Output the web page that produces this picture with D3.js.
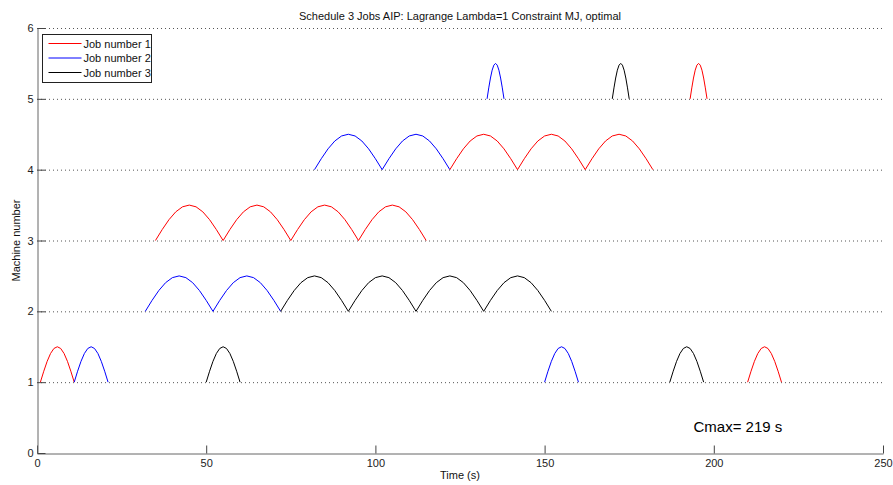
<!DOCTYPE html>
<html>
<head>
<meta charset="utf-8">
<script src="https://cdn.jsdelivr.net/npm/d3@7/dist/d3.min.js"></script>
<style>
  body { margin: 0; background: #fff; }
  svg { display: block; font-family: "Liberation Sans", Arial, sans-serif; }
  .tick text { font-size: 11px; fill: #222; }
</style>
</head>
<body>
<div id="chart"></div>
<script>
// operations per machine: [job, start, end]
const machine1 = [[1, 1, 11], [2, 11, 21], [3, 50, 60], [2, 150, 160], [3, 187, 197], [1, 210, 220]];
const machine2 = [[2, 32, 52], [2, 52, 72], [3, 72, 92], [3, 92, 112], [3, 112, 132], [3, 132, 152]];
const machine3 = [[1, 35, 55], [1, 55, 75], [1, 75, 95], [1, 95, 115]];
const machine4 = [[2, 82, 102], [2, 102, 122], [1, 122, 142], [1, 142, 162], [1, 162, 182]];
const machine5 = [[2, 133, 138], [3, 170, 175], [1, 193, 198]];
const machines = [machine1, machine2, machine3, machine4, machine5];

const jobNames = ['Job number 1', 'Job number 2', 'Job number 3'];
const jobColors = ['#ff0000', '#0000ff', '#000000'];
const xTicks = [0, 50, 100, 150, 200, 250];
const yTicks = [0, 1, 2, 3, 4, 5, 6];
const cmax = 219;

const width = 893, height = 485;
const margin = { left: 37, right: 10, top: 28, bottom: 32 };

const svg = d3.select('#chart').append('svg').attr('width', width).attr('height', height);

const x = d3.scaleLinear().domain([0, 250]).range([margin.left, width - margin.right]);
const y = d3.scaleLinear().domain([0, 6]).range([height - margin.bottom, margin.top]);

// dotted grid
svg.append('g')
  .selectAll('line')
  .data(yTicks.filter((d) => d > 0))
  .join('line')
  .attr('x1', x(0))
  .attr('x2', x(250))
  .attr('y1', (d) => y(d) + 0.5)
  .attr('y2', (d) => y(d) + 0.5)
  .attr('stroke', '#555')
  .attr('stroke-width', 1)
  .attr('stroke-dasharray', '1,3');

// axes
const xAxis = svg.append('g')
  .attr('transform', `translate(0,${y(0) + 0.5})`)
  .call(d3.axisBottom(x).tickValues(xTicks).tickFormat(d3.format('d')).tickSizeInner(-8).tickSizeOuter(0).tickPadding(6));
const yAxis = svg.append('g')
  .attr('transform', `translate(${x(0) + 0.5},0)`)
  .call(d3.axisLeft(y).tickValues(yTicks).tickFormat(d3.format('d')).tickSizeInner(-8).tickSizeOuter(0).tickPadding(4));
[xAxis, yAxis].forEach((ax) => {
  ax.select('.domain').attr('stroke', '#666');
  ax.selectAll('.tick line').attr('stroke', '#444');
});

// operation arcs
const arc = d3.line().x((p) => x(p[0])).y((p) => y(p[1]));
const samples = d3.range(0, 11).map((i) => i / 10);
const ops = machines.flatMap((ops, m) => ops.map(([job, s, e]) => ({ machine: m + 1, job, s, e })));
svg.append('g')
  .selectAll('path')
  .data(ops)
  .join('path')
  .attr('d', (o) => arc(samples.map((t) => [o.s + t * (o.e - o.s), o.machine + 0.5 * Math.sin(Math.PI * t)])))
  .attr('fill', 'none')
  .attr('stroke', (o) => jobColors[o.job - 1])
  .attr('stroke-width', 1);

// title and labels
svg.append('text')
  .attr('x', (x(0) + x(250)) / 2)
  .attr('y', 20)
  .attr('text-anchor', 'middle')
  .attr('font-size', 11)
  .attr('fill', '#111')
  .text('Schedule 3 Jobs AIP: Lagrange Lambda=1 Constraint MJ, optimal');
svg.append('text')
  .attr('x', (x(0) + x(250)) / 2)
  .attr('y', 479)
  .attr('text-anchor', 'middle')
  .attr('font-size', 11)
  .attr('fill', '#111')
  .text('Time (s)');
svg.append('text')
  .attr('transform', `translate(20,${y(3)}) rotate(-90)`)
  .attr('text-anchor', 'middle')
  .attr('font-size', 11)
  .attr('fill', '#111')
  .text('Machine number');

svg.append('text')
  .attr('x', x(194))
  .attr('y', 432)
  .attr('font-size', 15)
  .attr('fill', '#000')
  .text(`Cmax= ${cmax} s`);

// legend
const legend = svg.append('g').attr('transform', 'translate(42.5,34.5)');
legend.append('rect').attr('width', 109).attr('height', 48).attr('fill', '#fff').attr('stroke', '#222');
jobNames.forEach((name, i) => {
  const ly = 9 + i * 14.5;
  legend.append('line').attr('x1', 6).attr('x2', 39).attr('y1', ly).attr('y2', ly).attr('stroke', jobColors[i]);
  legend.append('text').attr('x', 41).attr('y', ly + 4).attr('font-size', 11).attr('fill', '#111').text(name);
});
</script>
</body>
</html>
